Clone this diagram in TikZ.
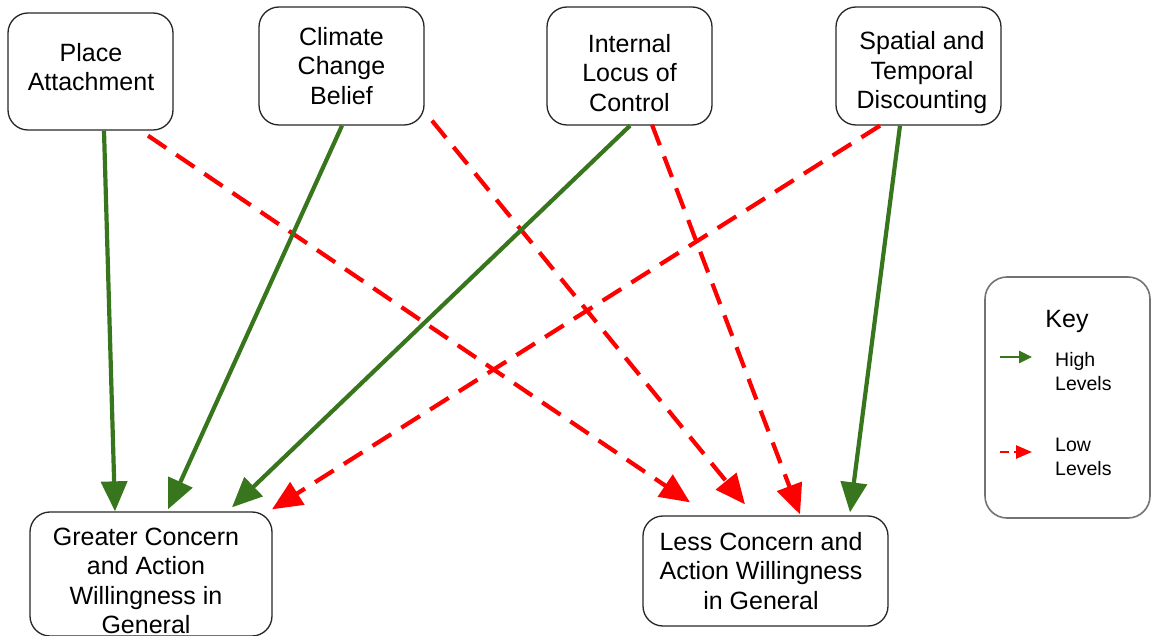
\documentclass[tikz,border=0pt]{standalone}
\usepackage{fontspec}
\setmainfont{Liberation Sans}
\usetikzlibrary{arrows.meta,calc}
\definecolor{hgreen}{HTML}{38761D}
\definecolor{lred}{HTML}{FF0000}
\tikzset{
  factor/.style={draw=black!85, line width=1.3pt, rounded corners=20pt, inner sep=0pt},
  factortext/.style={align=center, font=\fontsize{25}{29.5}\selectfont, inner sep=0pt},
  highlink/.style={draw=hgreen, line width=4.2pt, -{Triangle[length=30pt,width=26pt]}},
  lowlink/.style={draw=lred, line width=4.2pt, dash pattern=on 22pt off 12pt, -{Triangle[length=30pt,width=26pt]}},
  keytext/.style={font=\fontsize{19.5}{24}\selectfont, align=left, anchor=west, inner sep=0pt},
}
\begin{document}
\begin{tikzpicture}[x=1pt,y=-1pt]
\useasboundingbox (0,0) rectangle (1152,636);
% factor boxes
\node[factor, minimum width=165pt, minimum height=117pt] (pa) at (90.5,71.5) {};
\node[factor, minimum width=165pt, minimum height=118pt] (ccb) at (341.5,66) {};
\node[factor, minimum width=165pt, minimum height=118pt] (ilc) at (629.5,66) {};
\node[factor, minimum width=165pt, minimum height=118pt] (std) at (918.5,66) {};
\node[factor, minimum width=242pt, minimum height=124pt] (gc) at (151,574) {};
\node[factor, minimum width=245pt, minimum height=110pt] (lc) at (765.5,571) {};
\node[factortext] (pat) at (91,67) {Place\\Attachment};
\node[factortext] (ccbt) at (341.5,66) {Climate\\Change\\Belief};
\node[factortext] (ilct) at (629.5,73) {Internal\\Locus of\\Control};
\node[factortext] (stdt) at (922,73) {Spatial and\\Temporal\\Discounting};
\node[factortext] (gct) at (146,581) {Greater Concern\\and Action\\Willingness in\\General};
\node[factortext] (lct) at (761,571) {Less Concern and\\Action Willingness\\in General};
% key
\node[draw=black!55, line width=1.6pt, rounded corners=22pt, minimum width=165pt, minimum height=241pt] (key) at (1067.5,397.5) {};
\node[font=\fontsize{25}{30}\selectfont, inner sep=0pt] (keytitle) at (1067,321) {Key};
\node[keytext] (hightext) at (1055,372) {High\\Levels};
\node[keytext] (lowtext) at (1055,457) {Low\\Levels};
\coordinate (hs) at (1000,357);
\coordinate (he) at (1032,357);
\coordinate (ls) at (1000,452);
\coordinate (le) at (1032,452);
\draw[draw=hgreen, line width=2.5pt, -{Triangle[length=13pt,width=12pt]}] (hs) -- (he);
\draw[draw=lred, line width=2.5pt, dash pattern=on 9pt off 5pt, -{Triangle[length=16pt,width=13pt]}] (ls) -- (le);
% links
\draw[highlink] ($(pa.south)+(13.5,0)$) -- ($(gc.north)+(-36,0)$);
\draw[lowlink] ($(pa.south)+(57.5,5)$) -- ($(lc.north)+(-75.5,-13)$);
\draw[highlink] ($(ccb.south)+(0.5,0)$) -- ($(gc.north)+(17,-2)$);
\draw[lowlink] ($(ccb.south)+(90.5,-5)$) -- ($(lc.north)+(-20.5,-11)$);
\draw[highlink] ($(ilc.south)+(0.5,0)$) -- ($(gc.north)+(81,-4)$);
\draw[lowlink] ($(ilc.south)+(22.5,-1)$) -- ($(lc.north)+(34.5,-1)$);
\draw[lowlink] ($(std.south)+(-38.5,0)$) -- ($(gc.north)+(121,-2)$);
\draw[highlink] ($(std.south)+(-18.5,0)$) -- ($(lc.north)+(84.5,-3)$);
\end{tikzpicture}
\end{document}
